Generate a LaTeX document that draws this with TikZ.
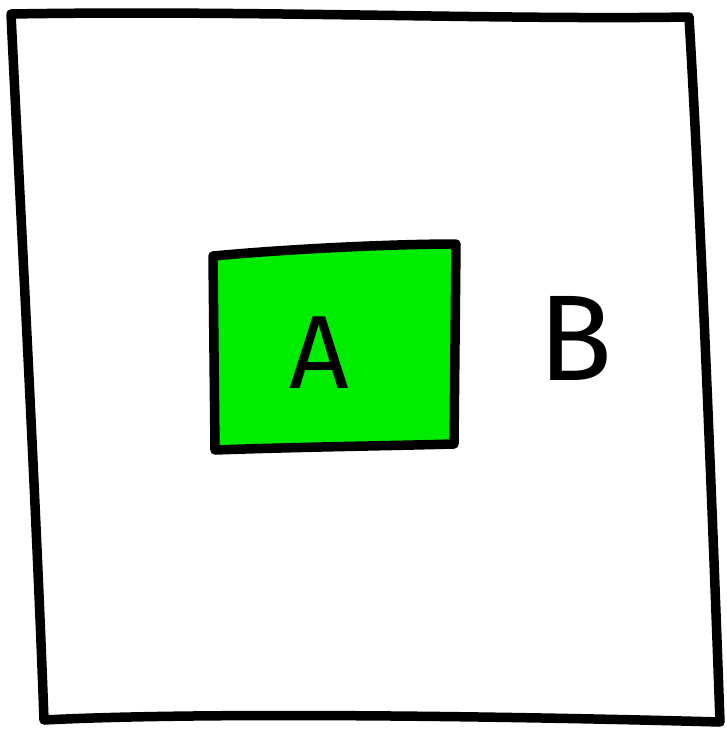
\documentclass[tikz,border=0pt]{standalone}
\usepackage{fontspec}
\setmainfont{Fira Sans}
\definecolor{boxgreen}{RGB}{0,236,0}
\tikzset{
  ink/.style={line width=9.5pt, line join=round, line cap=round, draw=black},
  letter/.style={inner sep=0pt, text=black}
}
\begin{document}
\begin{tikzpicture}[x=1pt,y=-1pt]
\useasboundingbox (0,0) rectangle (726,736);
\fill[white] (0,0) rectangle (726,736);
% outer frame
\draw[ink] (11,14) .. controls (250,10) and (500,20) .. (689,17)
  .. controls (700,200) and (712,500) .. (720,722)
  .. controls (500,716) and (200,712) .. (44,720)
  .. controls (36,500) and (20,200) .. (11,14) -- cycle;
% green box
\draw[ink, fill=boxgreen] (213,256) .. controls (300,248) and (400,244) .. (456,244)
  -- (454,444)
  .. controls (380,446) and (300,447) .. (215,450)
  -- cycle;
\node[letter, font=\fontsize{104}{104}\selectfont] (A) at (319,353) {A};
\node[letter, font=\fontsize{122}{122}\selectfont] (B) at (576,338) {B};
\end{tikzpicture}
\end{document}
